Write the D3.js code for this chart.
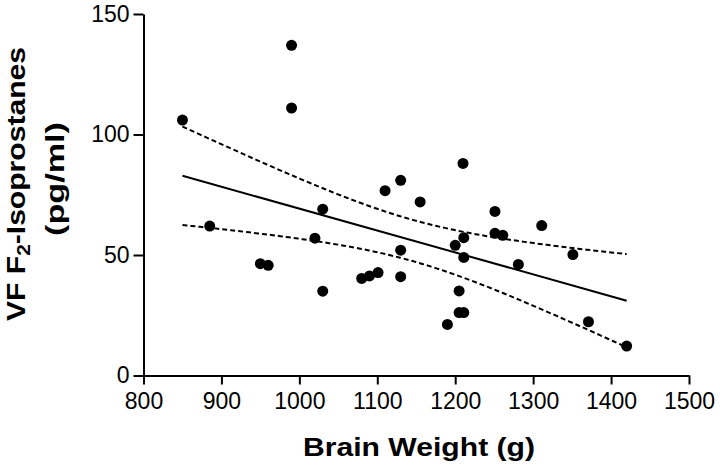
<!DOCTYPE html>
<html>
<head>
<meta charset="utf-8">
<script src="https://cdn.jsdelivr.net/npm/d3@7"></script>
<style>
  html, body { margin: 0; padding: 0; background: #fff; }
  svg { display: block; }
</style>
</head>
<body>
<svg id="chart" width="720" height="468"></svg>
<script>
// ---- data ----
const brainWeight = [850, 990, 990, 885, 950, 960, 1020, 1030, 1030, 1080, 1090, 1101,
  1110, 1130, 1130, 1130, 1155, 1190, 1200, 1205, 1205, 1211, 1210, 1211, 1211,
  1251, 1251, 1261, 1281, 1311, 1351, 1371, 1420];
const isoprostanes = [106, 137, 111, 62, 46.4, 45.7, 57, 69, 35, 40.3, 41.3, 42.7,
  76.7, 81, 52, 41, 72, 21.2, 54, 35.1, 26.1, 26.1, 88, 57.2, 49,
  68.1, 59, 58.2, 46.1, 62.2, 50.2, 22.3, 12.2];
const xTicks = [800, 900, 1000, 1100, 1200, 1300, 1400, 1500];
const yTicks = [0, 50, 100, 150];
const xDomain = [800, 1500];
const yDomain = [0, 150];
const xTitle = "Brain Weight (g)";
const yTitleLine1 = ["VF F", "2", "-Isoprostanes"];
const yTitleLine2 = "(pg/ml)";
const tCrit = 2.04; // t(0.975, df = n-2)

// ---- layout ----
const svg = d3.select("#chart");
const x = d3.scaleLinear().domain(xDomain).range([143.5, 689]);
const y = d3.scaleLinear().domain(yDomain).range([375.5, 14]);

// ---- linear regression and 95% confidence band from data ----
const pts = brainWeight.map((b, i) => ({ x: b, y: isoprostanes[i] }));
const n = pts.length;
const mx = d3.mean(pts, d => d.x), my = d3.mean(pts, d => d.y);
const sxx = d3.sum(pts, d => (d.x - mx) ** 2);
const sxy = d3.sum(pts, d => (d.x - mx) * (d.y - my));
const slope = sxy / sxx, intercept = my - slope * mx;
const sse = d3.sum(pts, d => (d.y - (intercept + slope * d.x)) ** 2);
const se = Math.sqrt(sse / (n - 2));
const [xmin, xmax] = d3.extent(brainWeight);
const fit = v => intercept + slope * v;
const hw = v => tCrit * se * Math.sqrt(1 / n + (v - mx) ** 2 / sxx);
const band = d3.range(0, 101).map(i => xmin + (xmax - xmin) * i / 100);

const line = d3.line().x(d => x(d[0])).y(d => y(d[1]));

svg.append("path")
  .attr("d", line([[xmin, fit(xmin)], [xmax, fit(xmax)]]))
  .attr("fill", "none").attr("stroke", "#000").attr("stroke-width", 2);
svg.append("path")
  .attr("d", line(band.map(v => [v, fit(v) + hw(v)])))
  .attr("fill", "none").attr("stroke", "#000").attr("stroke-width", 2)
  .attr("stroke-dasharray", "5,3");
svg.append("path")
  .attr("d", line(band.map(v => [v, fit(v) - hw(v)])))
  .attr("fill", "none").attr("stroke", "#000").attr("stroke-width", 2)
  .attr("stroke-dasharray", "5,3");

// ---- points ----
svg.append("g").selectAll("circle").data(pts).join("circle")
  .attr("cx", d => x(d.x)).attr("cy", d => y(d.y)).attr("r", 5.5)
  .attr("fill", "#000");

// ---- axes ----
const font = "'Liberation Sans', Arial, Helvetica, sans-serif";
const gx = svg.append("g").attr("transform", `translate(0,${y(0)})`)
  .call(d3.axisBottom(x).tickValues(xTicks).tickFormat(d3.format("d"))
    .tickSize(9).tickSizeOuter(0).tickPadding(8));
const gy = svg.append("g").attr("transform", `translate(${x(800)},0)`)
  .call(d3.axisLeft(y).tickValues(yTicks).tickFormat(d3.format("d"))
    .tickSize(10).tickSizeOuter(0).tickPadding(4));
[gx, gy].forEach(g => {
  g.select(".domain").attr("stroke-width", 2);
  g.selectAll(".tick line").attr("stroke-width", 2);
  g.selectAll(".tick text").attr("font-family", font).attr("font-size", 23).attr("fill", "#000");
});

// ---- axis titles ----
svg.append("text")
  .attr("x", 419).attr("y", 456)
  .attr("text-anchor", "middle")
  .attr("font-family", font).attr("font-weight", "bold").attr("font-size", 26)
  .attr("textLength", 232).attr("lengthAdjust", "spacingAndGlyphs")
  .text(xTitle);

const t1 = svg.append("text")
  .attr("transform", "translate(25,184) rotate(-90)")
  .attr("text-anchor", "middle")
  .attr("font-family", font).attr("font-weight", "bold").attr("font-size", 26)
  .attr("textLength", 274).attr("lengthAdjust", "spacingAndGlyphs");
t1.append("tspan").text(yTitleLine1[0]);
t1.append("tspan").attr("font-size", 18).attr("dy", 5).text(yTitleLine1[1]);
t1.append("tspan").attr("dy", -5).text(yTitleLine1[2]);

svg.append("text")
  .attr("transform", "translate(64,179) rotate(-90)")
  .attr("text-anchor", "middle")
  .attr("font-family", font).attr("font-weight", "bold").attr("font-size", 26)
  .attr("textLength", 114).attr("lengthAdjust", "spacingAndGlyphs")
  .text(yTitleLine2);
</script>
</body>
</html>
